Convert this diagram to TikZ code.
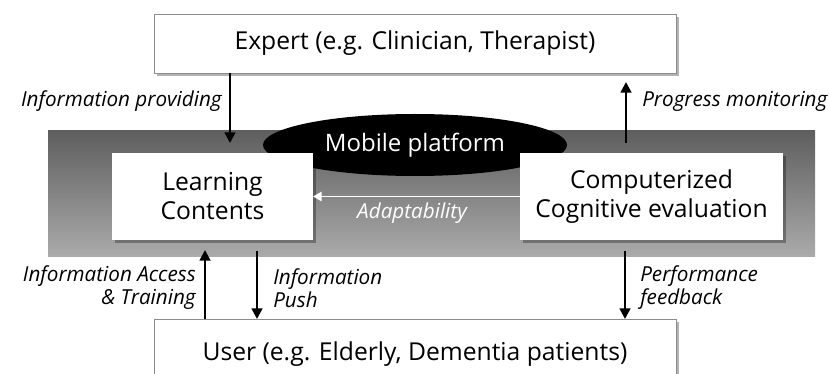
\documentclass[tikz,border=0pt]{standalone}
\usepackage{fontspec}
\setmainfont{Open Sans}
\usetikzlibrary{arrows.meta,shadows,shapes.geometric}

\tikzset{
  schatten/.style={drop shadow={shadow xshift=2pt, shadow yshift=-2.5pt, fill=black, opacity=0.3}},
  kasten/.style={draw=black!45, line width=0.6pt, fill=white, schatten, outer sep=0pt,
    minimum width=391.5pt, font=\fontsize{18.5}{22}\selectfont},
  modul/.style={fill=white, schatten, align=center, outer sep=0pt, minimum height=65.25pt,
    font=\fontsize{18.5}{21.75}\selectfont},
  pfeil/.style={line width=1.9pt, -{Triangle[length=8pt,width=8pt]}},
  beschr/.style={inner sep=0pt, font=\fontsize{15.5}{17.25}\selectfont\itshape}
}

\begin{document}
\begin{tikzpicture}[x=0.75pt, y=-0.75pt]
	\useasboundingbox (0,0) rectangle (829,374);
	% Plattform (Hintergrund)
	\fill[top color=black!63, bottom color=black!33] (48,131) rectangle (815,257);
	\node[ellipse, fill=black, minimum width=228pt, minimum height=46.5pt, text=white,
		inner sep=0pt, font=\fontsize{18}{21}\selectfont] (mobil) at (415,145) {Mobile platform};

	% Akteure
	\node[kasten, minimum height=44.25pt] (expert) at (415,43.5) {Expert (e.g. Clinician, Therapist)};
	\node[kasten, minimum height=52.5pt] (user) at (415,354) {User (e.g. Elderly, Dementia patients)};

	% Module auf der Plattform
	\node[modul, minimum width=150.75pt] (learn) at (212.5,196.5) {Learning\\Contents};
	\node[modul, minimum width=197.25pt] (eval) at (651.5,196.5) {Computerized\\Cognitive evaluation};

	% Spalten der Pfeile
	\coordinate (spI) at (230,0);
	\coordinate (spP) at (626,0);
	\coordinate (spZ) at (205,0);
	\coordinate (spE) at (257,0);
	\coordinate (spF) at (625,0);

	% Pfeile oben
	\draw[pfeil, shorten >=7.5pt] (expert.south -| spI) -- (learn.north -| spI);
	\draw[pfeil, shorten <=7.5pt, shorten >=6.75pt] (eval.north -| spP) -- (expert.south -| spP);
	\node[beschr, anchor=east] (lprov) at (222,101) {Information providing};
	\node[beschr, anchor=west] (lprog) at (642,101) {Progress monitoring};

	% Adaptivitaet
	\draw[line width=1.4pt, white, -{Triangle[length=6.5pt,width=7pt]}] (eval.west) -- (learn.east);
	\node[beschr, text=white] (ladapt) at (412,213) {Adaptability};

	% Pfeile unten
	\draw[pfeil, shorten >=7.5pt] (user.north -| spZ) -- (learn.south -| spZ);
	\draw[pfeil, shorten <=8pt] (learn.south -| spE) -- (user.north -| spE);
	\draw[pfeil, shorten <=8pt] (eval.south -| spF) -- (user.north -| spF);
	\node[beschr, anchor=east, align=right] (lzug) at (196,288) {Information Access\\\& Training};
	\node[beschr, anchor=west, align=left] (lpush) at (273,288) {Information\\Push};
	\node[beschr, anchor=west, align=left] (lperf) at (640,288) {Performance\\feedback};
\end{tikzpicture}
\end{document}
